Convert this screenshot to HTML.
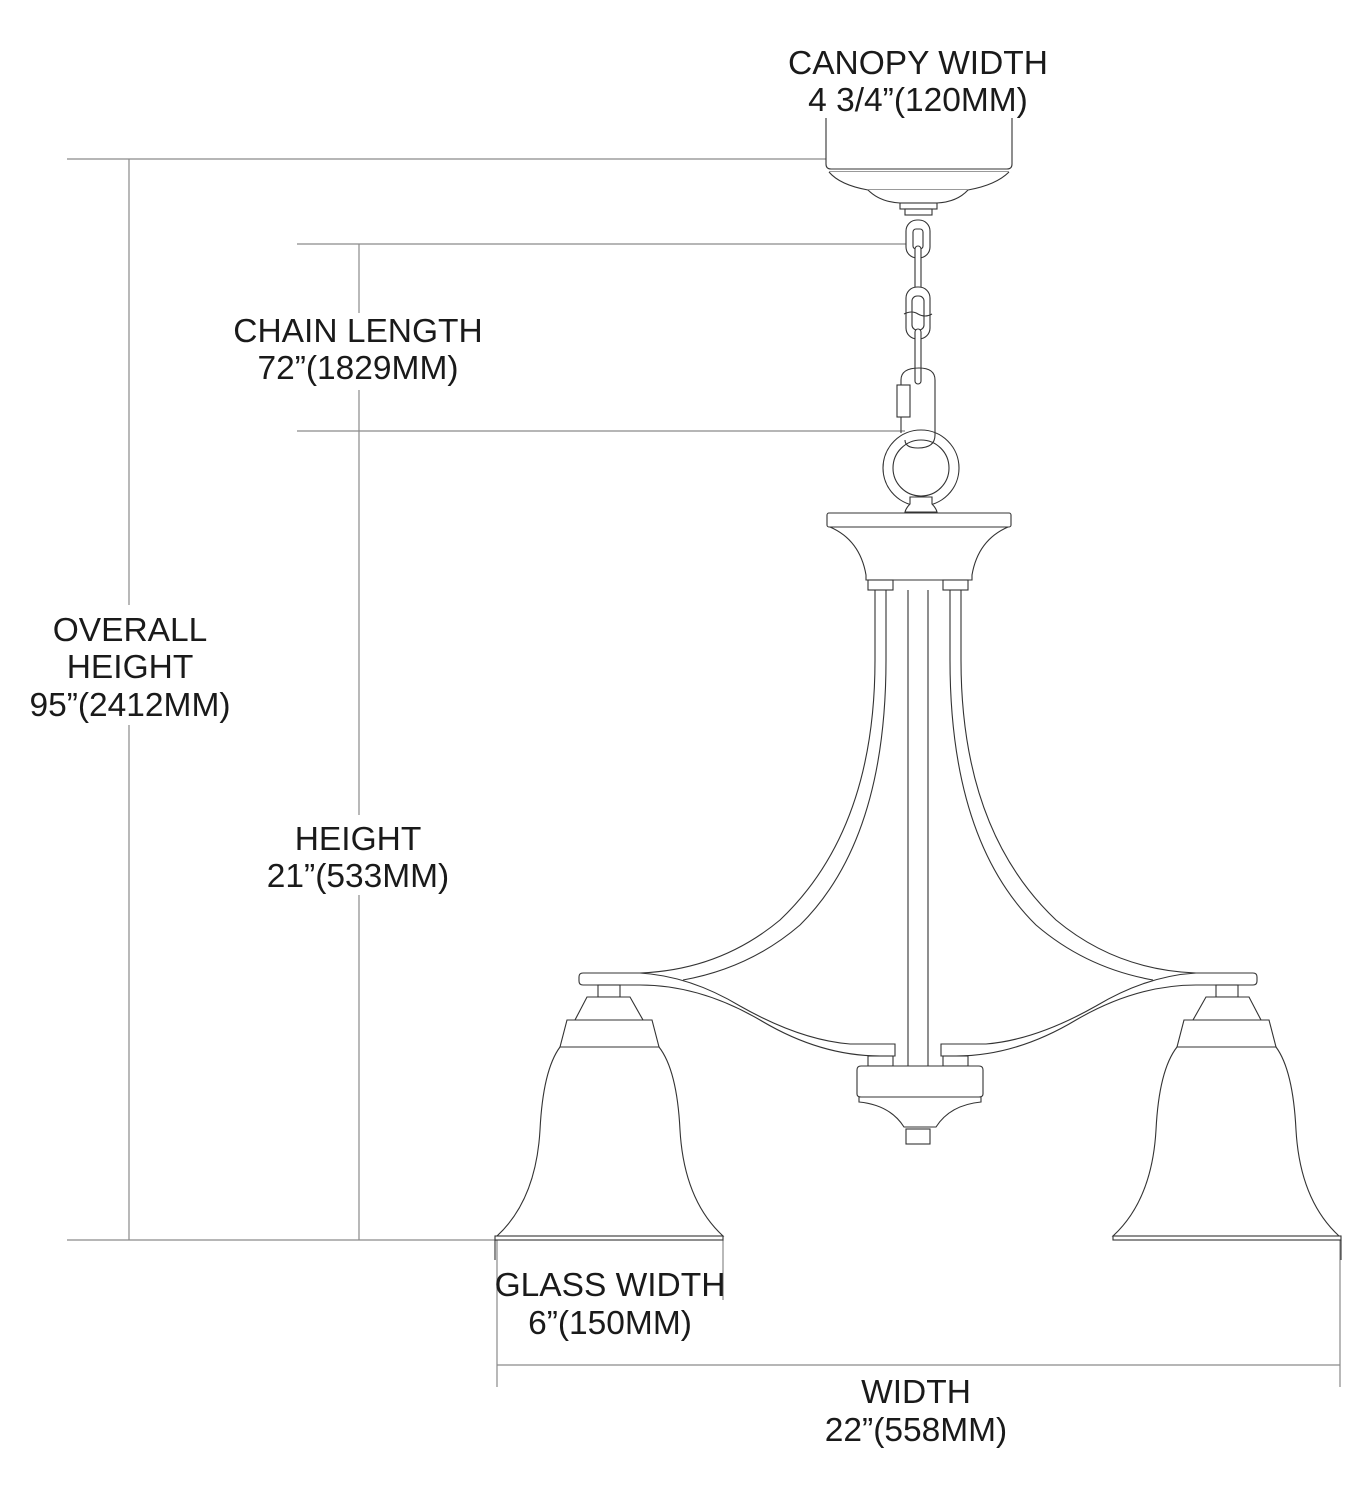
<!DOCTYPE html>
<html><head><meta charset="utf-8"><style>
html,body{margin:0;padding:0;background:#fff;}
svg{display:block;}
text{font-family:"Liberation Sans",sans-serif;font-size:33.5px;fill:#1a1a1a;text-anchor:middle;}
</style></head><body>
<svg width="1371" height="1500" viewBox="0 0 1371 1500" xmlns="http://www.w3.org/2000/svg">
<g stroke="#8a8a8a" stroke-width="1.2" fill="none">
  <line x1="67" y1="159" x2="826" y2="159"/>
  <line x1="129" y1="159" x2="129" y2="605"/>
  <line x1="129" y1="725" x2="129" y2="1240"/>
  <line x1="297" y1="244" x2="912" y2="244"/>
  <line x1="359" y1="244" x2="359" y2="313"/>
  <line x1="359" y1="390" x2="359" y2="815"/>
  <line x1="359" y1="895" x2="359" y2="1240"/>
  <line x1="297" y1="431" x2="905" y2="431"/>
  <line x1="67" y1="1240" x2="497" y2="1240"/>
  <line x1="497" y1="1240" x2="497" y2="1387"/>
  <line x1="723" y1="1240" x2="723" y2="1300"/>
  <line x1="1340" y1="1240" x2="1340" y2="1387"/>
  <line x1="497" y1="1365" x2="1340" y2="1365"/>
</g>
<g stroke="#333" stroke-width="1.1" fill="#fff">
  <path d="M826,118 L826,164 Q826,169 831,169 L1007,169 Q1012,169 1012,164 L1012,118" fill="none"/>
  <line x1="829" y1="172" x2="1009" y2="172"/>
  <path d="M829,172 Q840,185 868,190 L968,190 Q996,185 1009,172"/>
  <path d="M868,190 Q880,202 900,203 L937,203 Q957,202 968,190"/>
  <rect x="900" y="203" width="37" height="6"/>
  <rect x="905" y="209" width="27" height="6"/>
  <rect x="906" y="220" width="24" height="38" rx="11"/>
  <rect x="913" y="229" width="10" height="20" rx="3"/>
  <rect x="915" y="246" width="6" height="50" rx="3"/>
  <rect x="906" y="287" width="24" height="52" rx="11"/>
  <rect x="912" y="296" width="12" height="34" rx="5"/>
  <path d="M904,314 Q912,310 918,314 Q925,318 932,314" fill="none"/>
  <rect x="915" y="329" width="6" height="55" rx="3"/>
  <circle cx="921" cy="468" r="38"/>
  <circle cx="921" cy="468" r="28"/>
  <path d="M901,433 L901,380 Q901,368 919,368 Q935,368 935,380 L935,435 Q935,448 918,448 Q905,448 905,440" fill="none"/>
  <rect x="897" y="385" width="13" height="32"/>
  <path d="M910,497 L910,504 Q906,508 905,512 L937,512 Q936,508 932,504 L932,497 Z"/>
  <rect x="827" y="513" width="184" height="14" rx="2"/>
  <path d="M830,527 Q860,540 866,575 L866,580 L972,580 L972,575 Q978,540 1008,527 Z"/>
  <line x1="908" y1="590" x2="908" y2="1066"/>
  <line x1="928" y1="590" x2="928" y2="1066"/>
</g>
<g id="side" stroke="#333" stroke-width="1.1" fill="#fff">
  <rect x="868" y="580" width="25" height="10"/>
  <path d="M875,590 L875,660 Q875,830 780,920 Q720,970 640,973" fill="none"/>
  <path d="M886,590 L886,660 Q886,840 800,925 Q750,968 683,980" fill="none"/>
  <path d="M640,973 L583,973 Q579,973 579,977 L579,981 Q579,985 583,985 L640,985 Q700,985 760,1020 Q820,1056 880,1056 L895,1056 L895,1044 L850,1044 Q800,1040 740,1006 Q690,976 640,973 Z"/>
  <rect x="868" y="1056" width="25" height="10"/>
  <rect x="598" y="985" width="22" height="12"/>
  <path d="M587,997 L630,997 L643,1020 L575,1020 Z"/>
  <path d="M567,1020 L652,1020 L659,1047 L560,1047 Z"/>
  <path d="M560,1047 Q543,1070 540,1130 Q536,1200 497,1236 L723,1236 Q684,1200 680,1130 Q677,1070 659,1047 Z"/>
  <rect x="495" y="1236" width="228" height="4"/>
  <line x1="495" y1="1240" x2="495" y2="1260"/>
</g>
<use href="#side" transform="translate(1836,0) scale(-1,1)"/>
<g stroke="#333" stroke-width="1.1" fill="#fff">
  <path d="M861,1066 L979,1066 Q983,1066 983,1070 L983,1094 Q983,1097 979,1097 L861,1097 Q857,1097 857,1094 L857,1070 Q857,1066 861,1066 Z"/>
  <path d="M859,1097 L981,1097 L981,1102 Q950,1105 936,1127 L904,1127 Q890,1105 859,1102 Z"/>
  <rect x="906" y="1129" width="24" height="15"/>
</g>
<g>
  <text x="918" y="74">CANOPY WIDTH</text>
  <text x="918" y="111">4 3/4”(120MM)</text>
  <text x="358" y="342">CHAIN LENGTH</text>
  <text x="358" y="379">72”(1829MM)</text>
  <text x="130" y="641">OVERALL</text>
  <text x="130" y="678">HEIGHT</text>
  <text x="130" y="716">95”(2412MM)</text>
  <text x="358" y="850">HEIGHT</text>
  <text x="358" y="887">21”(533MM)</text>
  <text x="610" y="1296">GLASS WIDTH</text>
  <text x="610" y="1334">6”(150MM)</text>
  <text x="916" y="1403">WIDTH</text>
  <text x="916" y="1441">22”(558MM)</text>
</g>
</svg>
</body></html>
